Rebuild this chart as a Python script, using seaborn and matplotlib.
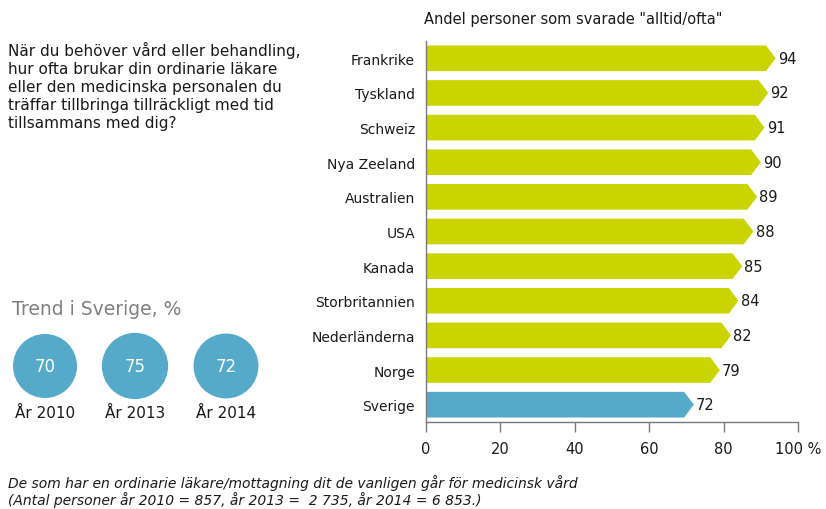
import matplotlib
matplotlib.use("Agg")
import matplotlib.pyplot as plt
from matplotlib.patches import Polygon, Circle
import pandas as pd
import seaborn as sns

countries = ["Frankrike", "Tyskland", "Schweiz", "Nya Zeeland", "Australien", "USA",
             "Kanada", "Storbritannien", "Nederländerna", "Norge", "Sverige"]
values = [94, 92, 91, 90, 89, 88, 85, 84, 82, 79, 72]
trend_years = ["År 2010", "År 2013", "År 2014"]
trend_values = [70, 75, 72]
x_ticks = [0, 20, 40, 60, 80, 100]
x_tick_labels = ["0", "20", "40", "60", "80", "100 %"]

green = "#c9d400"
blue = "#55aac9"
grey = "#7a7a7a"
dark = "#1a1a1a"

sns.set_style("white")
plt.rcParams["font.family"] = ["DejaVu Sans"]

df = pd.DataFrame({"land": countries, "andel": values})
colors = [blue if c == "Sverige" else green for c in countries]

fig = plt.figure(figsize=(8.26, 5.10), dpi=100)
ax = fig.add_axes([426 / 826, 87 / 510, 372 / 826, 381 / 510])

sns.barplot(data=df, y="land", x="andel", hue="land", palette=colors,
            legend=False, width=0.74, ax=ax, saturation=1)

# turn the plain bars into arrow-shaped bars
tip = 2.6
for p in list(ax.patches):
    x0, y0 = p.get_x(), p.get_y()
    w, h = p.get_width(), p.get_height()
    col = p.get_facecolor()
    p.remove()
    poly = Polygon([(x0, y0), (x0 + w - tip, y0), (x0 + w, y0 + h / 2),
                    (x0 + w - tip, y0 + h), (x0, y0 + h)],
                   closed=True, facecolor=col, edgecolor="none")
    ax.add_patch(poly)
    ax.text(x0 + w + 0.6, y0 + h / 2, f"{int(round(w))}", va="center", ha="left",
            fontsize=10.5, color=dark)

ax.set_xlim(0, 100)
ax.set_xticks(x_ticks)
ax.set_xticklabels(x_tick_labels, fontsize=10.5, color=dark)
ax.set_xlabel("")
ax.set_ylabel("")
ax.tick_params(axis="y", length=0, pad=8, labelsize=10, labelcolor=dark)
ax.tick_params(axis="x", bottom=True, direction="out", length=7, width=1,
               color=grey, pad=7)
for s in ["top", "right"]:
    ax.spines[s].set_visible(False)
for s in ["left", "bottom"]:
    ax.spines[s].set_color(grey)
    ax.spines[s].set_linewidth(1)
ax.set_title('Andel personer som svarade "alltid/ofta"', fontsize=10.5, loc="left",
             x=-0.005, pad=13, color=dark)

# left side texts and trend circles, in a pixel-coordinate overlay
bg = fig.add_axes([0, 0, 1, 1], zorder=-1)
bg.set_xlim(0, 826)
bg.set_ylim(510, 0)
bg.axis("off")

question = ("När du behöver vård eller behandling,\n"
            "hur ofta brukar din ordinarie läkare\n"
            "eller den medicinska personalen du\n"
            "träffar tillbringa tillräckligt med tid\n"
            "tillsammans med dig?")
bg.text(8, 42, question, fontsize=11, va="top", ha="left", linespacing=1.25,
        color=dark)
bg.text(12, 310, "Trend i Sverige, %", fontsize=13.5, va="center", ha="left",
        color="#808080")

centers = [45, 135, 226]
for cx, yr, v in zip(centers, trend_years, trend_values):
    r = 32 * (v / 70) ** 0.5
    bg.add_patch(Circle((cx, 367), r, facecolor=blue, edgecolor="none"))
    bg.text(cx, 367, str(v), fontsize=12, color="white", ha="center", va="center")
    bg.text(cx, 413, yr, fontsize=11, color=dark, ha="center", va="center")

bg.text(8, 483, "De som har en ordinarie läkare/mottagning dit de vanligen går för medicinsk vård",
        fontsize=10, style="italic", va="center", ha="left", color=dark)
bg.text(8, 500, "(Antal personer år 2010 = 857, år 2013 =  2 735, år 2014 = 6 853.)",
        fontsize=10, style="italic", va="center", ha="left", color=dark)

fig.savefig("out.png", dpi=100)
